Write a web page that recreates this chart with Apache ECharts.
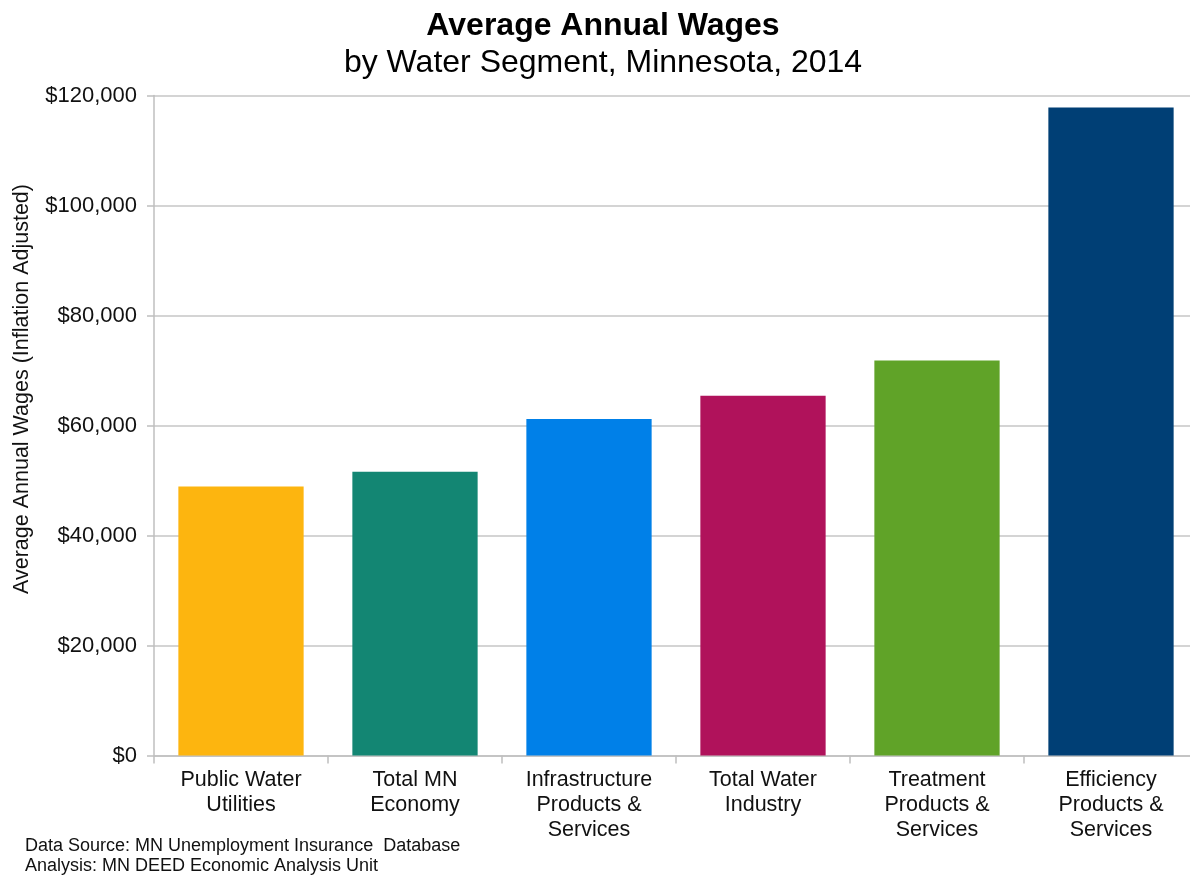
<!DOCTYPE html>
<html>
<head>
<meta charset="utf-8">
<script src="https://cdn.jsdelivr.net/npm/echarts@6/dist/echarts.min.js"></script>
<style>
html,body{margin:0;padding:0;background:#fff;}
#chart{width:1190px;height:877px;}
</style>
</head>
<body>
<div id="chart"></div>
<script>
var categories = ['Public Water\nUtilities', 'Total MN\nEconomy', 'Infrastructure\nProducts &\nServices', 'Total Water\nIndustry', 'Treatment\nProducts &\nServices', 'Efficiency\nProducts &\nServices'];
var wages = [48900, 51600, 61200, 65400, 71800, 117800];
var barColors = ['#FDB50F', '#138673', '#0080E8', '#B0125B', '#60A328', '#003F75'];
var yTicks = { min: 0, max: 120000, interval: 20000 };

var FONT = '"Liberation Sans", Arial, sans-serif';
var chart = echarts.init(document.getElementById('chart'));
chart.setOption({
  animation: false,
  backgroundColor: '#ffffff',
  grid: { left: 154, top: 95.5, width: 1044, bottom: 121.5, containLabel: false, outerBoundsMode: 'none' },
  xAxis: {
    type: 'category',
    data: categories,
    axisLine: { lineStyle: { color: '#bfbfbf', width: 1.5 } },
    axisTick: { show: true, length: 8, lineStyle: { color: '#bfbfbf', width: 1.5 } },
    axisLabel: { color: '#111', fontFamily: FONT, fontSize: 21.5, lineHeight: 25, margin: 12, interval: 0 }
  },
  yAxis: {
    type: 'value',
    min: yTicks.min, max: yTicks.max, interval: yTicks.interval,
    axisLine: { show: true, lineStyle: { color: '#bfbfbf', width: 1.5 } },
    axisTick: { show: true, length: 7, lineStyle: { color: '#bfbfbf', width: 1.5 } },
    splitLine: { lineStyle: { color: '#c6c6c6', width: 1.5 } },
    axisLabel: {
      color: '#111', fontFamily: FONT, fontSize: 22, margin: 17,
      formatter: function (v) { return '$' + v.toLocaleString('en-US'); }
    }
  },
  series: [{
    type: 'bar',
    barCategoryGap: '28%',
    data: wages.map(function (v, i) { return { value: v, itemStyle: { color: barColors[i] } }; })
  }],
  graphic: [
    { type: 'text', x: 603, y: 26, style: { text: 'Average Annual Wages', font: 'bold 32px ' + FONT, fill: '#000', textAlign: 'center', textVerticalAlign: 'middle' } },
    { type: 'text', x: 603, y: 63, style: { text: 'by Water Segment, Minnesota, 2014', font: '32px ' + FONT, fill: '#000', textAlign: 'center', textVerticalAlign: 'middle' } },
    { type: 'text', x: 22, y: 389, rotation: Math.PI / 2, style: { text: 'Average Annual Wages (Inflation Adjusted)', font: '21.5px ' + FONT, fill: '#111', textAlign: 'center', textVerticalAlign: 'middle' } },
    { type: 'text', x: 25, y: 846, style: { text: 'Data Source: MN Unemployment Insurance  Database', font: '18px ' + FONT, fill: '#111', textAlign: 'left', textVerticalAlign: 'middle' } },
    { type: 'text', x: 25, y: 866, style: { text: 'Analysis: MN DEED Economic Analysis Unit', font: '18px ' + FONT, fill: '#111', textAlign: 'left', textVerticalAlign: 'middle' } }
  ]
});
</script>
</body>
</html>
